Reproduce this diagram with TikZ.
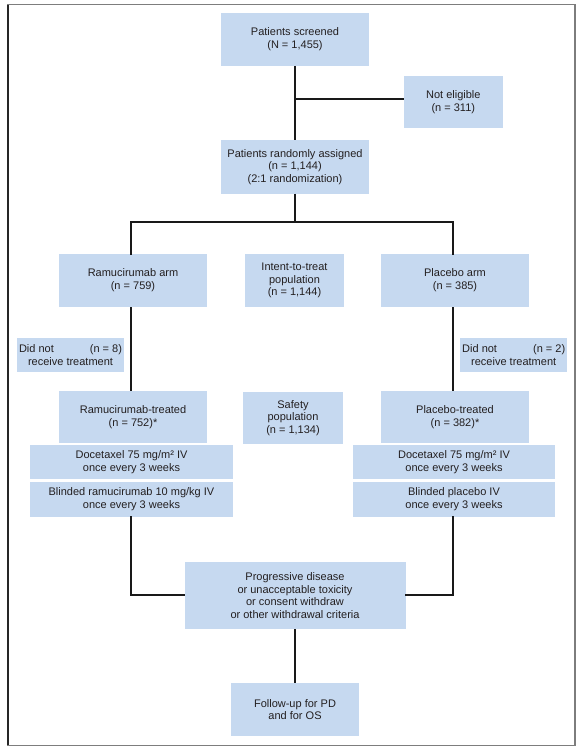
\documentclass[tikz,border=0pt]{standalone}
\usepackage{fontspec}
\setmainfont{Liberation Sans}
\definecolor{boxblue}{RGB}{198,217,240}
\definecolor{txt}{RGB}{35,31,32}
\definecolor{frame}{RGB}{125,125,125}
\begin{document}
\begin{tikzpicture}[x=1pt,y=-1pt,
  bx/.style={fill=boxblue, draw=none, inner sep=0pt, align=center, text=txt,
    font=\fontsize{11}{12.7}\selectfont},
  ln/.style={line width=1.8pt, draw=black!90, line cap=rect}]
\useasboundingbox (0,0) rectangle (582,754);
\draw[frame, line width=1.2pt] (8,4.7) rectangle (575,745.3);
\draw[black!85, line width=1.2pt] (8,4.7) -- (8,745.3);

\node[bx, minimum width=148, minimum height=53] (scr) at (295,39.2) {Patients screened\\(N = 1,455)};
\node[bx, minimum width=99, minimum height=52] (nel) at (453.3,102) {Not eligible\\(n = 311)};
\node[bx, minimum width=148, minimum height=53] (ran) at (295,167) {Patients randomly assigned\\(n = 1,144)\\(2:1 randomization)};

\node[bx, minimum width=148, minimum height=53] (ram) at (133,280.5) {Ramucirumab arm\\(n = 759)};
\node[bx, minimum width=99, minimum height=53] (itt) at (294.5,280.5) {Intent-to-treat\\population\\(n = 1,144)};
\node[bx, minimum width=148, minimum height=53] (pla) at (455,280.5) {Placebo arm\\(n = 385)};

\node[bx, minimum width=107, minimum height=34] (dnl) at (70.5,355) {\makebox[103pt]{Did not\hfill(n = 8)}\\receive treatment};
\node[bx, minimum width=107, minimum height=34] (dnr) at (513.7,355) {\makebox[103pt]{Did not\hfill(n = 2)}\\receive treatment};

\node[bx, minimum width=148, minimum height=52] (rtr) at (133,417) {Ramucirumab-treated\\(n = 752)*};
\node[bx, minimum width=100, minimum height=52] (saf) at (293,418) {Safety\\population\\(n = 1,134)};
\node[bx, minimum width=148, minimum height=52] (ptr) at (455,417) {Placebo-treated\\(n = 382)*};

\node[bx, minimum width=203, minimum height=34] (dol) at (131.5,462) {Docetaxel 75 mg/m² IV\\once every 3 weeks};
\node[bx, minimum width=203, minimum height=35] (bll) at (131.5,499.5) {Blinded ramucirumab 10 mg/kg IV\\once every 3 weeks};
\node[bx, minimum width=202, minimum height=34] (dor) at (454,462) {Docetaxel 75 mg/m² IV\\once every 3 weeks};
\node[bx, minimum width=202, minimum height=35] (blr) at (454,499.5) {Blinded placebo IV\\once every 3 weeks};

\node[bx, minimum width=221, minimum height=67] (pd) at (295,595.5) {Progressive disease\\or unacceptable toxicity\\or consent withdraw\\or other withdrawal criteria};
\node[bx, minimum width=128, minimum height=53] (fu) at (295,709.5) {Follow-up for PD\\and for OS};

\coordinate (j1) at (295,99.3);
\coordinate (br) at (295,221.7);
\coordinate (bl) at (130.7,221.7);
\coordinate (brr) at (452.7,221.7);
\coordinate (jl) at (130.7,594.7);
\coordinate (jr) at (452.7,594.7);

\draw[ln, line cap=butt] (scr.south) -- (ran.north);
\draw[ln, line cap=butt] (j1) -- (j1 -| nel.west);
\draw[ln, line cap=butt] (ran.south) -- (br);
\draw[ln] (bl |- ram.north) -- (bl) -- (brr) -- (brr |- pla.north);
\draw[ln, line cap=butt] (bl |- ram.south) -- (bl |- rtr.north);
\draw[ln, line cap=butt] (brr |- pla.south) -- (brr |- ptr.north);
\draw[ln] (bl |- bll.south) -- (jl) -- (jl -| pd.west);
\draw[ln] (brr |- blr.south) -- (jr) -- (jr -| pd.east);
\draw[ln, line cap=butt] (pd.south) -- (fu.north);
\end{tikzpicture}
\end{document}
